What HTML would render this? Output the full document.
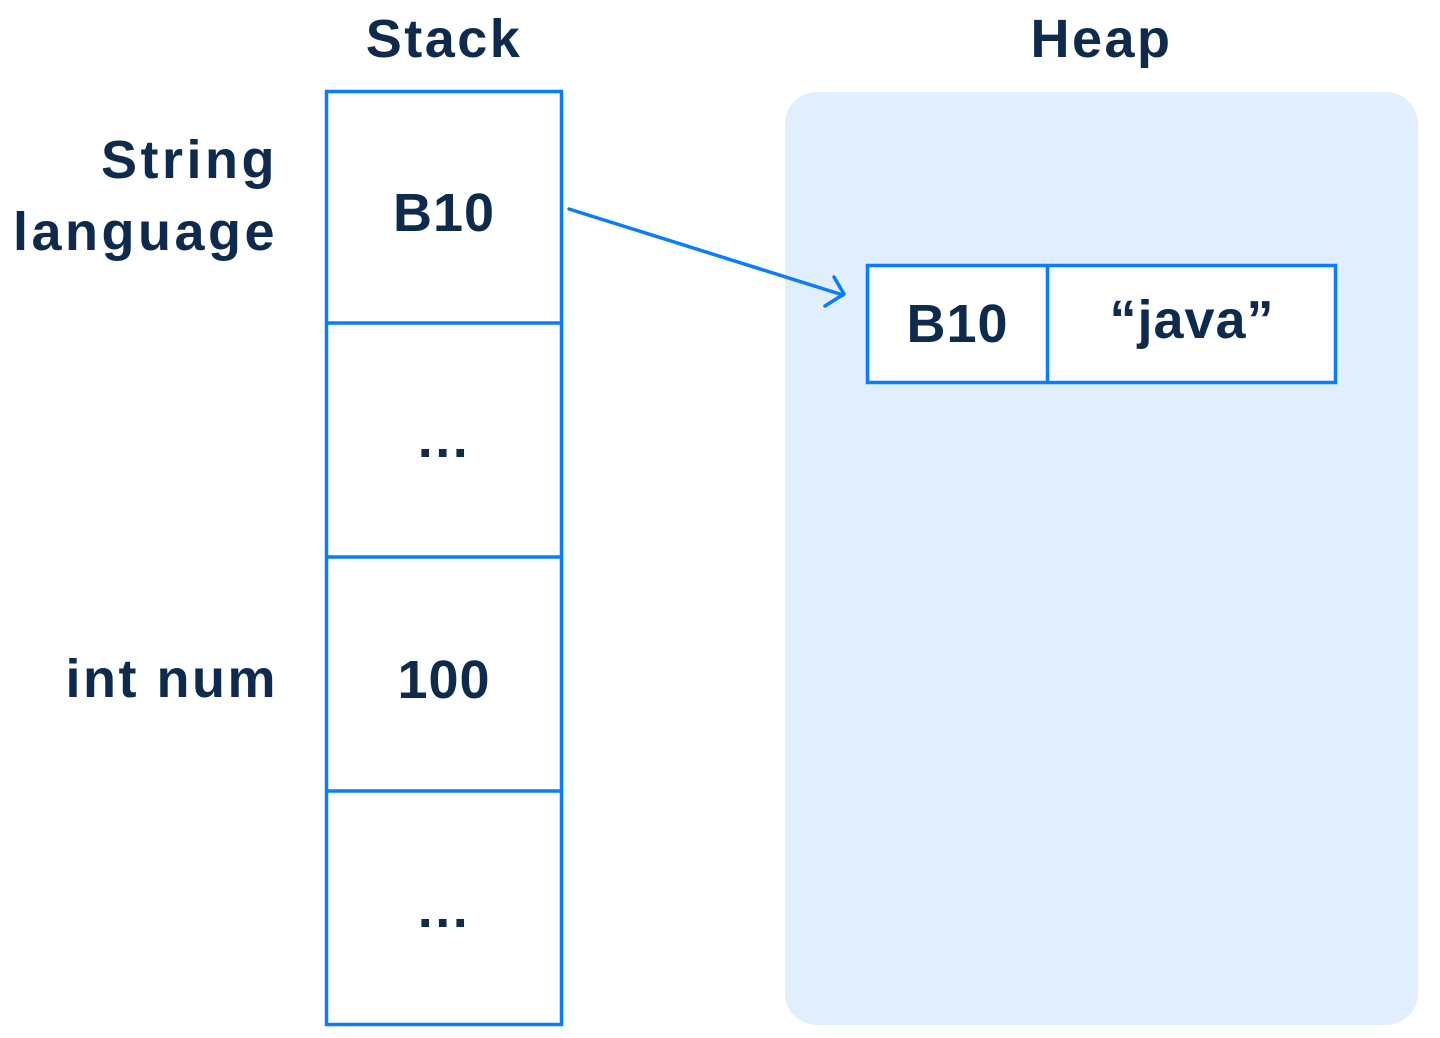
<!DOCTYPE html>
<html><head><style>
body{margin:0;width:1440px;height:1038px;background:#fff;position:relative;overflow:hidden;font-family:"Liberation Sans",sans-serif;color:#0e2b4e}
.t{position:absolute;font-size:54px;line-height:1;white-space:nowrap;font-weight:bold;letter-spacing:2.5px}
.c{text-align:center}
</style></head><body>
<div style="position:absolute;left:785px;top:92px;width:633px;height:933px;background:#e1eefd;border-radius:32px"></div>
<svg width="1440" height="1038" style="position:absolute;left:0;top:0">
<g fill="none" stroke="#0a7cff" stroke-width="3.5">
<rect x="326.5" y="91.5" width="235" height="933"/>
<line x1="326" y1="323" x2="562" y2="323"/>
<line x1="326" y1="557" x2="562" y2="557"/>
<line x1="326" y1="791" x2="562" y2="791"/>
<rect x="867.5" y="265.5" width="468" height="117" fill="#fff"/>
<line x1="1047.5" y1="265" x2="1047.5" y2="383"/>
<line x1="569" y1="209" x2="843" y2="295" stroke-linecap="round"/>
<polyline points="834,277 844,294 825,306" stroke-linecap="round" stroke-linejoin="round"/>
</g></svg>
<div class="t c" style="left:326px;width:236px;top:12px">Stack</div>
<div class="t c" style="left:785px;width:633px;top:12px">Heap</div>
<div class="t" style="right:1162px;text-align:right;line-height:72px;top:124px;letter-spacing:3.5px">String<br>language</div>
<div class="t" style="right:1162px;top:652px">int num</div>
<div class="t c" style="left:326px;width:236px;top:186px;letter-spacing:1px">B10</div>
<div class="t c" style="left:326px;width:236px;top:412px">...</div>
<div class="t c" style="left:326px;width:236px;top:653px;letter-spacing:1px">100</div>
<div class="t c" style="left:326px;width:236px;top:882px">...</div>
<div class="t c" style="left:867px;width:181px;top:297px;letter-spacing:1px">B10</div>
<div class="t c" style="left:1048px;width:288px;top:293px;letter-spacing:1px">“java”</div>
</body></html>
